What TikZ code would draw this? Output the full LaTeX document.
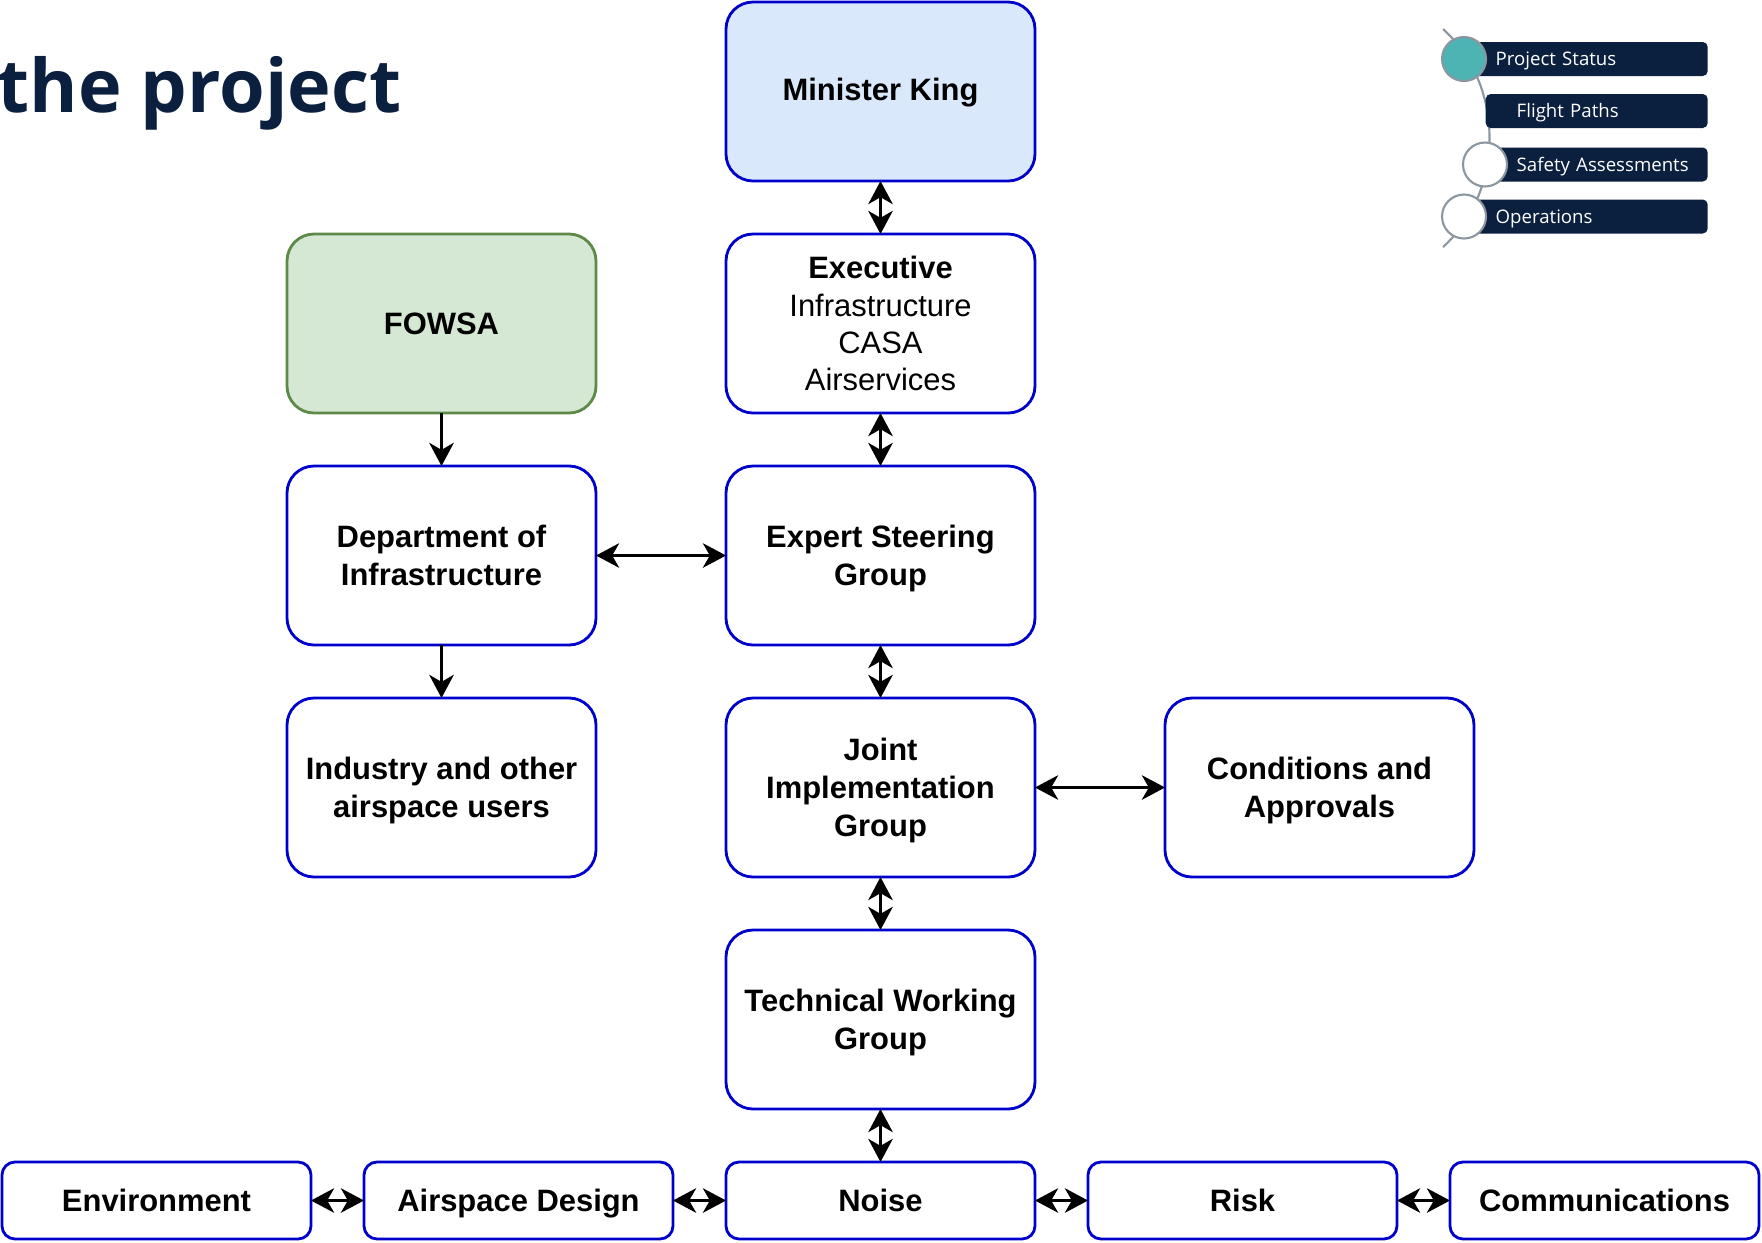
\documentclass[tikz,border=0pt]{standalone}
\usepackage{fontspec}
\setmainfont{Liberation Sans}
\newfontfamily\opensans{Open Sans}
\usetikzlibrary{arrows.meta, positioning}
\definecolor{edge}{HTML}{0000CC}
\definecolor{king}{HTML}{DAE8FC}
\definecolor{fowsa}{HTML}{D5E8D4}
\definecolor{fowsaline}{HTML}{5E8A48}
\definecolor{navy}{HTML}{0B1F3F}
\definecolor{teal}{HTML}{4DB3B3}
\definecolor{track}{HTML}{8C96A0}

\begin{document}
\begin{tikzpicture}[x=0.1mm, y=-0.1mm, >={Stealth[length=6.6pt, width=7pt, inset=2pt]},
    node distance=5.3mm and 13mm,
    box/.style={draw=edge, line width=0.8pt, rounded corners=2.7mm, fill=white, outer sep=0pt,
      minimum width=30.9mm, minimum height=17.9mm, align=center, inner sep=2pt, text depth=0pt,
      font=\fontsize{8.8}{10.8}\selectfont\bfseries},
    tab/.style={box, minimum height=7.7mm, rounded corners=1.3mm, text height=6.6pt, text depth=0.3pt},
    link/.style={line width=0.6pt},
    bar/.style={fill=navy, text=white, anchor=west, align=left, inner xsep=3.1mm, inner ysep=0pt,
      minimum height=3.4mm, rounded corners=0.5mm, text height=4pt, text depth=0.2pt,
      font=\opensans\fontsize{5.3}{6}\selectfont},
    dot/.style={circle, draw=track, line width=0.6pt, fill=white, minimum size=4.4mm, inner sep=0pt}]

  \useasboundingbox (0,0) rectangle (1762,1242);

  \node[text=navy, font=\opensans\bfseries\fontsize{21}{21}\selectfont, anchor=base west, inner sep=0pt]
    (title) at (-3,112) {the project};

  \node[box, fill=king, text depth=1.3pt] (king) at (880.5,91.5) {Minister King};
  \node[box, below=of king, font=\fontsize{8.8}{10.6}\selectfont] (exec)
    {\textbf{Executive}\\Infrastructure\\CASA\\Airservices};
  \node[box, below=of exec] (esg) {Expert Steering\\Group};
  \node[box, below=of esg] (jig) {Joint\\Implementation\\Group};
  \node[box, below=of jig] (twg) {Technical Working\\Group};
  \node[box, left=of esg] (doi) {Department of\\Infrastructure};
  \node[box, above=of doi, fill=fowsa, draw=fowsaline] (fowsa) {FOWSA};
  \node[box, below=of doi] (ind) {Industry and other\\airspace users};
  \node[box, right=of jig] (cna) {Conditions and\\Approvals};

  \node[tab, below=of twg] (noise) {Noise};
  \node[tab, left=5.3mm of noise] (air) {Airspace Design};
  \node[tab, left=5.3mm of air] (env) {Environment};
  \node[tab, right=5.3mm of noise] (risk) {Risk};
  \node[tab, right=5.3mm of risk] (comm) {Communications};

  \draw[link, <->] (king) -- (exec);
  \draw[link, <->] (exec) -- (esg);
  \draw[link, <->] (esg) -- (jig);
  \draw[link, <->] (jig) -- (twg);
  \draw[link, <->] (twg) -- (noise);
  \draw[link, <->] (doi) -- (esg);
  \draw[link, <->] (jig) -- (cna);
  \draw[link, ->] (fowsa) -- (doi);
  \draw[link, ->] (doi) -- (ind);
  \draw[link, <->] (env) -- (air);
  \draw[link, <->] (air) -- (noise);
  \draw[link, <->] (noise) -- (risk);
  \draw[link, <->] (risk) -- (comm);

  % progress tracker
  \draw[track, line width=0.6pt] (1443,29) .. controls (1505,85) and (1505,191) .. (1443,247);
  \node[bar, text width=18.1mm] (status) at (1464,59) {\mbox{Project Status}};
  \node[bar, text width=16mm] (paths) at (1485,111) {\mbox{Flight Paths}};
  \node[bar, text width=16mm] (safety) at (1485,164.5) {\mbox{Safety Assessments}};
  \node[bar, text width=18.1mm] (ops) at (1464,216.5) {\mbox{Operations}};
  \node[dot, fill=teal] (d1) at (1464,59) {};
  \node[dot] (d3) at (1485,164.5) {};
  \node[dot] (d4) at (1464,216.5) {};
\end{tikzpicture}
\end{document}
